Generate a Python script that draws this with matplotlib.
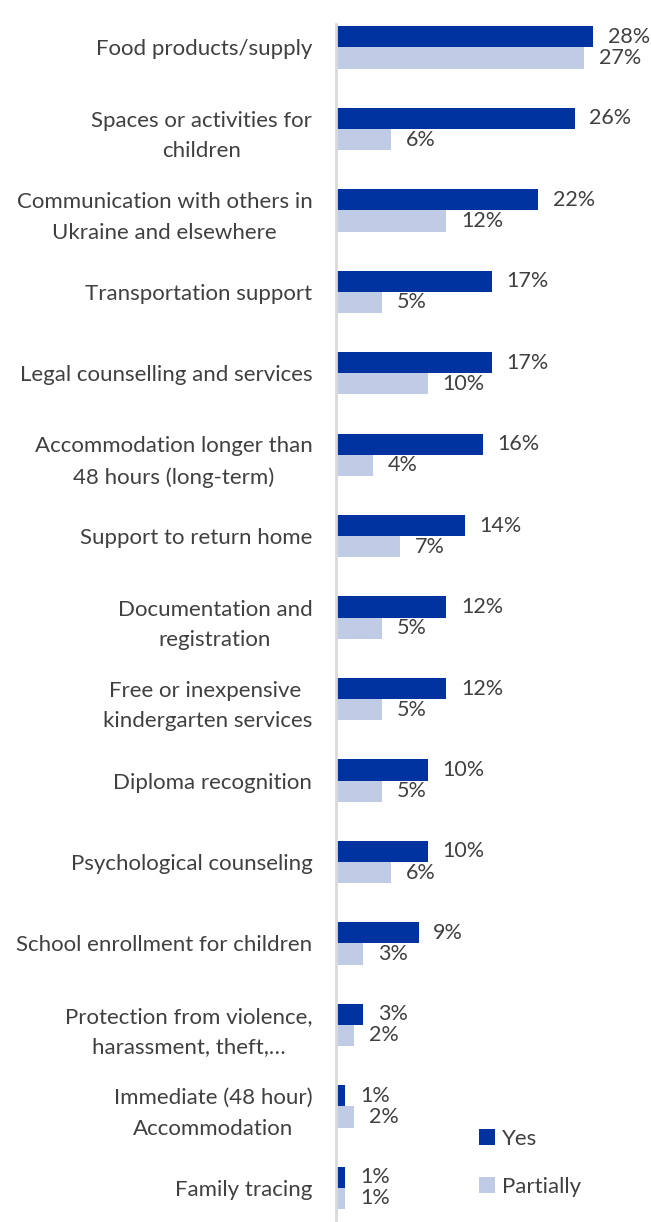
import numpy as np
import matplotlib
matplotlib.use("Agg")
import matplotlib.pyplot as plt

plt.rcParams['font.family'] = ['Lato', 'DejaVu Sans']

categories = [
    "Food products/supply",
    "Spaces or activities for\nchildren",
    "Communication with others in\nUkraine and elsewhere",
    "Transportation support",
    "Legal counselling and services",
    "Accommodation longer than\n48 hours (long-term)",
    "Support to return home",
    "Documentation and\nregistration",
    "Free or inexpensive \nkindergarten services",
    "Diploma recognition",
    "Psychological counseling",
    "School enrollment for children",
    "Protection from violence,\nharassment, theft,\u2026",
    "Immediate (48 hour)\nAccommodation",
    "Family tracing",
]
yes = [28, 26, 22, 17, 17, 16, 14, 12, 12, 10, 10, 9, 3, 1, 1]
partially = [27, 6, 12, 5, 10, 4, 7, 5, 5, 5, 6, 3, 2, 2, 1]

dark = "#0033a0"
light = "#c0cbe6"
text_col = "#404040"

fig = plt.figure(figsize=(6.51, 12.22), dpi=100)
ax = fig.add_axes([0.516, 0.0, 0.484, 0.98])

y = np.arange(len(categories))
h = 0.26
ax.barh(y - h / 2, yes, height=h, color=dark, label="Yes")
ax.barh(y + h / 2, partially, height=h, color=light, label="Partially")

# value labels next to each bar
for yi, v in zip(y, yes):
    ax.text(v + 1.6, yi - h / 2, f"{v}%", va="center", ha="left",
            fontsize=15.5, color=text_col)
for yi, v in zip(y, partially):
    ax.text(v + 1.6, yi + h / 2, f"{v}%", va="center", ha="left",
            fontsize=15.5, color=text_col)

ax.set_xlim(0, 34.3)
ax.set_ylim(14.42, -0.283)
ax.set_yticks(y)
ax.set_yticklabels(categories, fontsize=16, color=text_col,
                   multialignment="center", linespacing=1.65)
ax.tick_params(axis="y", length=0, pad=17)
ax.set_xticks([])
for side in ["top", "right", "bottom"]:
    ax.spines[side].set_visible(False)
ax.spines["left"].set_color("#d9d9d9")
ax.spines["left"].set_linewidth(2)

fig.legend(loc="upper left", bbox_to_anchor=(0.705, 0.0925), frameon=False,
           fontsize=16, handlelength=0.7, handleheight=0.7, labelspacing=1.25,
           handletextpad=0.35, labelcolor=text_col)

fig.savefig("out.png", dpi=100)
